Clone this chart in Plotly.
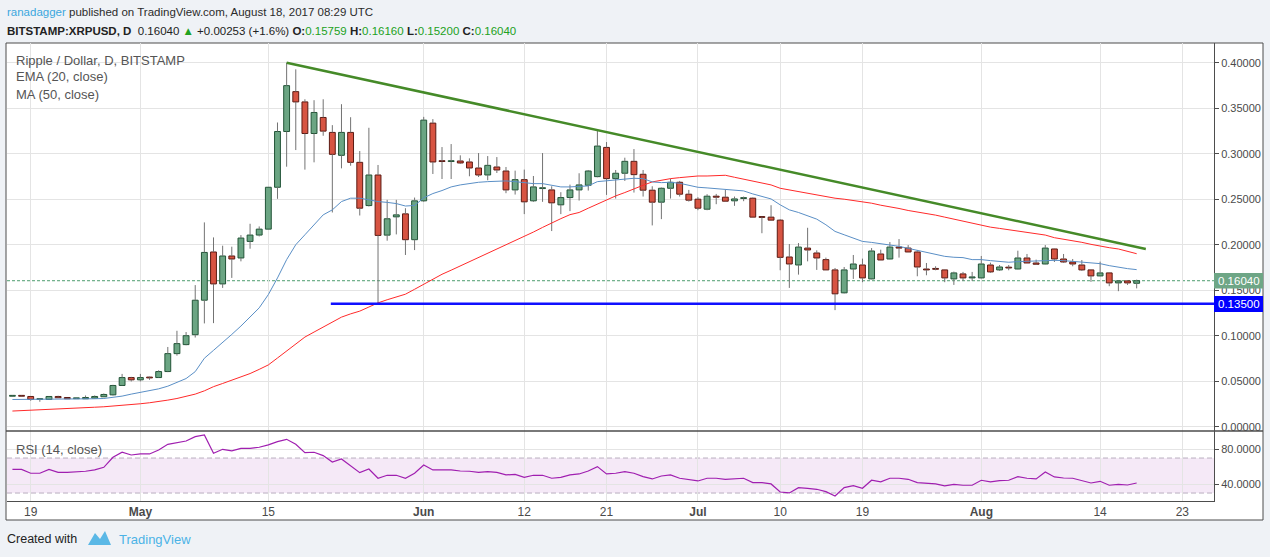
import pandas as pd
import plotly.graph_objects as go

# ---- data (daily candles, Apr 17 - Aug 18 2017) ----
dates = pd.date_range("2017-04-17", "2017-08-18", freq="D")

opens = [
    # Apr 17-30
    0.0335, 0.0337, 0.0332, 0.0299, 0.0299, 0.0332, 0.0321, 0.0308, 0.0307, 0.0314, 0.0329, 0.0350, 0.0453, 0.0540,
    # May
    0.0515, 0.0540, 0.0540, 0.0606, 0.0803, 0.0902, 0.1011, 0.1390, 0.1920, 0.1569, 0.1876, 0.1854, 0.2036, 0.2106,
    0.2171, 0.2631, 0.3244, 0.3682, 0.3569, 0.3222, 0.3398, 0.3234, 0.2982, 0.3234, 0.2905, 0.2430, 0.2766, 0.2105,
    0.2306, 0.2339, 0.2055,
    # Jun
    0.2482, 0.3336, 0.2920, 0.2914, 0.2920, 0.2909, 0.2843, 0.2766, 0.2854, 0.2810, 0.2602, 0.2715, 0.2482, 0.2617,
    0.2602, 0.2438, 0.2518, 0.2602, 0.2653, 0.2748, 0.3069, 0.2726, 0.2785, 0.2916, 0.2774, 0.2599, 0.2467, 0.2620,
    0.2686, 0.2555,
    # Jul
    0.2500, 0.2390, 0.2533, 0.2522, 0.2482, 0.2508, 0.2511, 0.2303, 0.2303, 0.2270, 0.1865, 0.1777, 0.1963, 0.1909,
    0.1836, 0.1723, 0.1471, 0.1733, 0.1777, 0.1624, 0.1898, 0.1843, 0.1974, 0.1963, 0.1920, 0.1733, 0.1733, 0.1723,
    0.1624, 0.1679, 0.1635,
    # Aug
    0.1635, 0.1777, 0.1723, 0.1748, 0.1733, 0.1854, 0.1799, 0.1788, 0.1953, 0.1843, 0.1810, 0.1777, 0.1723, 0.1657,
    0.1690, 0.1580, 0.1602, 0.15759,
]
highs = [
    0.0340, 0.0340, 0.0334, 0.0307, 0.0336, 0.0340, 0.0321, 0.0314, 0.0343, 0.0343, 0.0365, 0.0460, 0.0580, 0.0548,
    0.0580, 0.0550, 0.0620, 0.0876, 0.1054, 0.1040, 0.1556, 0.2245, 0.2080, 0.1989, 0.1978, 0.2106, 0.2230, 0.2201,
    0.2631, 0.3343, 0.4000, 0.3927, 0.3598, 0.3588, 0.3598, 0.3314, 0.3544, 0.3401, 0.3029, 0.3285, 0.2876, 0.2493,
    0.2493, 0.2401, 0.2518,
    0.3405, 0.3380, 0.3073, 0.3106, 0.2982, 0.2949, 0.3007, 0.2974, 0.2963, 0.2854, 0.2814, 0.2825, 0.2755, 0.3007,
    0.2642, 0.2577, 0.2660, 0.2785, 0.2821, 0.3259, 0.3128, 0.2821, 0.2956, 0.3051, 0.2821, 0.2642, 0.2628, 0.2726,
    0.2701, 0.2602,
    0.2522, 0.2555, 0.2558, 0.2602, 0.2529, 0.2529, 0.2518, 0.2306, 0.2434, 0.2281, 0.2007, 0.2018, 0.2186, 0.1938,
    0.1858, 0.1744, 0.1755, 0.1887, 0.1847, 0.1963, 0.1945, 0.2029, 0.2062, 0.1996, 0.1942, 0.1799, 0.1763, 0.1726,
    0.1704, 0.1701, 0.1701,
    0.1876, 0.1803, 0.1777, 0.1777, 0.1934, 0.1898, 0.1836, 0.1996, 0.1956, 0.1898, 0.1843, 0.1832, 0.1726, 0.1814,
    0.1693, 0.1605, 0.1609, 0.16160,
]
lows = [
    0.0333, 0.0333, 0.0285, 0.0274, 0.0298, 0.0316, 0.0305, 0.0305, 0.0305, 0.0312, 0.0325, 0.0343, 0.0450, 0.0497,
    0.0497, 0.0515, 0.0535, 0.0600, 0.0781, 0.0895, 0.0980, 0.1135, 0.1138, 0.1525, 0.1635, 0.1817, 0.1956, 0.2091,
    0.2171, 0.2504, 0.2857, 0.3040, 0.2825, 0.2905, 0.3197, 0.2354, 0.2839, 0.2868, 0.2321, 0.2420, 0.1361, 0.2044,
    0.2113, 0.1887, 0.1941,
    0.2471, 0.2777, 0.2722, 0.2722, 0.2887, 0.2752, 0.2744, 0.2708, 0.2788, 0.2566, 0.2551, 0.2336, 0.2471, 0.2471,
    0.2150, 0.2336, 0.2369, 0.2485, 0.2595, 0.2741, 0.2547, 0.2507, 0.2701, 0.2573, 0.2529, 0.2212, 0.2281, 0.2507,
    0.2529, 0.2474,
    0.2379, 0.2379, 0.2445, 0.2474, 0.2427, 0.2478, 0.2303, 0.2126, 0.2266, 0.1719, 0.1525, 0.1671, 0.1817, 0.1723,
    0.1723, 0.1281, 0.1465, 0.1624, 0.1588, 0.1620, 0.1832, 0.1840, 0.1858, 0.1920, 0.1653, 0.1664, 0.1719, 0.1588,
    0.1558, 0.1602, 0.1602,
    0.1630, 0.1690, 0.1712, 0.1719, 0.1730, 0.1799, 0.1777, 0.1785, 0.1810, 0.1799, 0.1763, 0.1712, 0.1591, 0.1654,
    0.1544, 0.1489, 0.1558, 0.15200,
]
closes = [
    0.0337, 0.0335, 0.0300, 0.0300, 0.0332, 0.0318, 0.0307, 0.0310, 0.0321, 0.0332, 0.0354, 0.0453, 0.0540, 0.0515,
    0.0540, 0.0536, 0.0606, 0.0803, 0.0913, 0.1000, 0.1390, 0.1915, 0.1569, 0.1876, 0.1843, 0.2073, 0.2106, 0.2171,
    0.2631, 0.3244, 0.3748, 0.3569, 0.3222, 0.3453, 0.3248, 0.2993, 0.3234, 0.2905, 0.2401, 0.2766, 0.2102, 0.2285,
    0.2328, 0.2055, 0.2482,
    0.3369, 0.2909, 0.2914, 0.2920, 0.2898, 0.2843, 0.2766, 0.2872, 0.2821, 0.2602, 0.2715, 0.2471, 0.2635, 0.2620,
    0.2460, 0.2518, 0.2602, 0.2657, 0.2810, 0.3084, 0.2726, 0.2785, 0.2916, 0.2770, 0.2599, 0.2467, 0.2620, 0.2686,
    0.2555, 0.2489,
    0.2401, 0.2533, 0.2522, 0.2478, 0.2503, 0.2511, 0.2303, 0.2300, 0.2270, 0.1861, 0.1788, 0.1974, 0.1942, 0.1854,
    0.1723, 0.1460, 0.1723, 0.1788, 0.1635, 0.1931, 0.1832, 0.1974, 0.1963, 0.1920, 0.1755, 0.1723, 0.1730, 0.1635,
    0.1690, 0.1635, 0.1646,
    0.1788, 0.1701, 0.1755, 0.1744, 0.1854, 0.1799, 0.1785, 0.1963, 0.1843, 0.1810, 0.1788, 0.1723, 0.1657, 0.1690,
    0.1580, 0.1602, 0.1580, 0.16040,
]

ema20 = [
    0.0299, 0.0299, 0.0300, 0.0300, 0.0301, 0.0302, 0.0302, 0.0303, 0.0305, 0.0307, 0.0310, 0.0321, 0.0336, 0.0358,
    0.0376, 0.0390, 0.0416, 0.0445, 0.0485, 0.0529, 0.0605, 0.0752, 0.0839, 0.0923, 0.1014, 0.1106, 0.1204, 0.1306,
    0.1452, 0.1635, 0.1836, 0.2000, 0.2109, 0.2219, 0.2328, 0.2383, 0.2474, 0.2511, 0.2511, 0.2493, 0.2474, 0.2465,
    0.2452, 0.2425, 0.2431,
    0.2515, 0.2562, 0.2595, 0.2635, 0.2657, 0.2675, 0.2686, 0.2693, 0.2701, 0.2701, 0.2693, 0.2679, 0.2671, 0.2671,
    0.2650, 0.2635, 0.2635, 0.2638, 0.2646, 0.2693, 0.2701, 0.2712, 0.2723, 0.2730, 0.2726, 0.2690, 0.2682, 0.2686,
    0.2675, 0.2653,
    0.2631, 0.2624, 0.2617, 0.2602, 0.2595, 0.2591, 0.2558, 0.2533, 0.2503, 0.2438, 0.2383, 0.2354, 0.2321, 0.2281,
    0.2219, 0.2146, 0.2109, 0.2073, 0.2036, 0.2025, 0.2011, 0.2000, 0.1982, 0.1960, 0.1938, 0.1916, 0.1894, 0.1872,
    0.1862, 0.1858, 0.1836,
    0.1836, 0.1825, 0.1814, 0.1807, 0.1814, 0.1817, 0.1817, 0.1828, 0.1828, 0.1825, 0.1817, 0.1807, 0.1796, 0.1792,
    0.1770, 0.1752, 0.1737, 0.1726,
]
ma50 = [
    0.0172, 0.0176, 0.0179, 0.0183, 0.0188, 0.0193, 0.0198, 0.0204, 0.0209, 0.0214, 0.0219, 0.0226, 0.0233, 0.0241,
    0.0252, 0.0263, 0.0274, 0.0292, 0.0310, 0.0334, 0.0358, 0.0394, 0.0440, 0.0475, 0.0510, 0.0545, 0.0584, 0.0630,
    0.0679, 0.0755, 0.0832, 0.0910, 0.0985, 0.1040, 0.1095, 0.1150, 0.1204, 0.1240, 0.1270, 0.1315, 0.1361, 0.1395,
    0.1425, 0.1456, 0.1510,
    0.1566, 0.1620, 0.1675, 0.1720, 0.1766, 0.1812, 0.1858, 0.1907, 0.1956, 0.2003, 0.2051, 0.2095, 0.2139, 0.2190,
    0.2241, 0.2286, 0.2330, 0.2354, 0.2401, 0.2449, 0.2493, 0.2536, 0.2573, 0.2609, 0.2653, 0.2690, 0.2712, 0.2726,
    0.2737, 0.2748,
    0.2755, 0.2755, 0.2759, 0.2763, 0.2741, 0.2719, 0.2697, 0.2680, 0.2657, 0.2620, 0.2602, 0.2580, 0.2558, 0.2540,
    0.2526, 0.2511, 0.2500, 0.2485, 0.2474, 0.2456, 0.2434, 0.2420, 0.2398, 0.2376, 0.2361, 0.2347, 0.2325, 0.2303,
    0.2281, 0.2252, 0.2230,
    0.2215, 0.2193, 0.2179, 0.2164, 0.2153, 0.2139, 0.2120, 0.2106, 0.2077, 0.2062, 0.2044, 0.2026, 0.2004, 0.1982,
    0.1967, 0.1953, 0.1923, 0.1901,
]
rsi14 = [
    57.1, 57.1, 52.6, 52.6, 57.1, 53.7, 53.7, 54.1, 54.9, 56.4, 59.4, 70.9, 76.6, 73.5,
    74.7, 74.7, 79.2, 85.7, 87.6, 89.5, 94.5, 96.4, 75.4, 80.0, 78.1, 81.1, 81.1, 82.3, 85.0, 88.8, 91.4, 85.7,
    76.2, 76.6, 72.8, 65.5, 69.0, 61.0, 53.3, 57.5, 46.9, 50.3, 50.3, 46.9, 52.6,
    62.1, 56.4, 56.4, 56.4, 55.2, 54.9, 53.7, 54.5, 53.7, 50.7, 51.4, 48.0, 50.3, 50.3, 46.9, 48.0, 50.7, 51.8,
    55.2, 60.2, 51.8, 52.6, 54.5, 52.6, 48.8, 46.1, 49.5, 50.7, 46.9, 45.7,
    43.8, 46.9, 46.9, 45.7, 46.5, 46.9, 41.9, 41.9, 40.4, 31.2, 30.1, 36.2, 35.4, 34.3, 31.6, 26.7, 36.2, 38.5,
    35.4, 44.6, 42.7, 46.9, 46.9, 45.7, 41.9, 40.8, 40.4, 38.1, 40.0, 38.9, 38.9,
    44.6, 42.7, 44.2, 44.6, 48.8, 46.9, 46.1, 54.1, 48.4, 47.2, 46.9, 43.8, 41.5, 43.4, 38.9, 40.0, 39.2, 41.5,
]
for series in (opens, highs, lows, closes, ema20, ma50, rsi14):
    assert len(series) == len(dates), len(series)

# drawings on the chart
trend_dates = ["2017-05-17", "2017-08-19"]
trend_prices = [0.4000, 0.1953]
support_dates = ["2017-05-21 20:00", "2017-08-27"]
support_price = 0.135
last_price = 0.16040

tick_dates = ["2017-04-19", "2017-05-01", "2017-05-15", "2017-06-01", "2017-06-12", "2017-06-21",
              "2017-07-01", "2017-07-10", "2017-07-19", "2017-08-01", "2017-08-14", "2017-08-23"]
tick_text = ["19", "<b>May</b>", "15", "<b>Jun</b>", "12", "21",
             "<b>Jul</b>", "10", "19", "<b>Aug</b>", "14", "23"]

# ---- layout helpers (pixel -> paper) ----
W, H = 1270, 557
ML, MR, MT, MB = 7, 56, 43, 56
PW, PH = W - ML - MR, H - MT - MB


def px(x):
    return (x - ML) / PW


def py(y):
    return (H - MB - y) / PH


SPLIT = py(431)
SANS = "Liberation Sans, Arial, sans-serif"

UP_FILL, UP_LINE = "#6ba583", "#225437"
DN_FILL, DN_LINE = "#d75442", "#5b1a13"

fig = go.Figure()

# wicks (split so they never cross the bodies)
wx, wy = [], []
for d, o, h, l, c in zip(dates, opens, highs, lows, closes):
    wx += [d, d, None, d, d, None]
    wy += [l, min(o, c), None, max(o, c), h, None]
fig.add_trace(go.Scatter(x=wx, y=wy, mode="lines", line=dict(color="#737373", width=1),
                         hoverinfo="skip", showlegend=False))

# bodies
up = [c >= o for o, c in zip(opens, closes)]
fig.add_trace(go.Bar(
    x=dates,
    y=[max(abs(c - o), 0.0009) for o, c in zip(opens, closes)],
    base=[min(o, c) for o, c in zip(opens, closes)],
    width=0.64 * 86400000,
    marker=dict(color=[UP_FILL if u else DN_FILL for u in up],
                line=dict(color=[UP_LINE if u else DN_LINE for u in up], width=1)),
    hoverinfo="skip", showlegend=False,
))

fig.add_trace(go.Scatter(x=dates, y=ma50, mode="lines", line=dict(color="#ff2a2a", width=1),
                         hoverinfo="skip", showlegend=False))
fig.add_trace(go.Scatter(x=dates, y=ema20, mode="lines", line=dict(color="#5a8fc6", width=1),
                         hoverinfo="skip", showlegend=False))
fig.add_trace(go.Scatter(x=trend_dates, y=trend_prices, mode="lines", line=dict(color="#458a28", width=2.5),
                         hoverinfo="skip", showlegend=False))
fig.add_trace(go.Scatter(x=support_dates, y=[support_price, support_price], mode="lines",
                         line=dict(color="#1010ff", width=2.5), hoverinfo="skip", showlegend=False))

# RSI pane
fig.add_trace(go.Scatter(x=dates, y=rsi14, mode="lines", line=dict(color="#a01fb0", width=1.2),
                         xaxis="x2", yaxis="y2", hoverinfo="skip", showlegend=False))

x_range = ["2017-04-16 09:46", "2017-08-26 11:03"]
grid = "#e4e4e4"
axis_line = "#4d4d4d"
tick_font = dict(family=SANS, size=11, color="#4a4a4a")

fig.update_layout(
    width=W, height=H,
    margin=dict(l=ML, r=MR, t=MT, b=MB),
    paper_bgcolor="#eff2f6",
    plot_bgcolor="#ffffff",
    barmode="overlay",
    showlegend=False,
    xaxis=dict(domain=[0, 1], anchor="y", range=x_range, type="date",
               tickvals=tick_dates, showticklabels=False, ticks="",
               showgrid=True, gridcolor=grid, gridwidth=1, zeroline=False, showline=False),
    yaxis=dict(domain=[SPLIT, 1], anchor="x", side="right", range=[-0.00473, 0.42165],
               tickvals=[0.0, 0.05, 0.10, 0.15, 0.20, 0.25, 0.30, 0.35, 0.40],
               tickformat=".5f", ticks="outside", ticklen=4, tickcolor=axis_line, tickfont=tick_font,
               showgrid=True, gridcolor=grid, zeroline=False,
               showline=True, linecolor=axis_line, linewidth=1),
    xaxis2=dict(domain=[0, 1], anchor="y2", matches="x", range=x_range, type="date",
                tickvals=tick_dates, ticktext=tick_text, ticks="",
                tickfont=dict(family=SANS, size=12, color="#4a4a4a"),
                showgrid=True, gridcolor=grid, zeroline=False,
                showline=True, linecolor=axis_line, linewidth=1),
    yaxis2=dict(domain=[0, SPLIT], anchor="x2", side="right", range=[20.9, 100.9],
                tickvals=[40, 80], tickformat=".4f", ticks="outside", ticklen=4, tickcolor=axis_line,
                tickfont=tick_font, showgrid=True, gridcolor=grid, zeroline=False,
                showline=True, linecolor=axis_line, linewidth=1),
)

shapes = [
    # chart frame
    dict(type="rect", xref="paper", yref="paper", x0=px(6), x1=px(1263), y0=py(520), y1=py(43),
         line=dict(color="#4d4d4d", width=1), fillcolor="rgba(255,255,255,1)", layer="below"),
    # pane separator
    dict(type="line", xref="paper", yref="paper", x0=px(6), x1=px(1263), y0=SPLIT, y1=SPLIT,
         line=dict(color=axis_line, width=1.5), layer="above"),
    # RSI band and bounds
    dict(type="rect", xref="x2 domain", yref="y2", x0=0, x1=1, y0=30, y1=70,
         fillcolor="rgba(156,39,176,0.10)", line=dict(width=0), layer="below"),
    dict(type="line", xref="x2 domain", yref="y2", x0=0, x1=1, y0=70, y1=70,
         line=dict(color="#b9aebf", width=1, dash="5px,3px"), layer="below"),
    dict(type="line", xref="x2 domain", yref="y2", x0=0, x1=1, y0=30, y1=30,
         line=dict(color="#b9aebf", width=1, dash="5px,3px"), layer="below"),
    # last price line
    dict(type="line", xref="x domain", yref="y", x0=0, x1=1, y0=last_price, y1=last_price,
         line=dict(color="#4e9d6f", width=1, dash="3px,2px"), layer="below"),
    # price labels on the scale
    dict(type="rect", xref="paper", yref="paper", x0=px(1214), x1=px(1263), y0=py(288.5), y1=py(273),
         fillcolor="#6ea686", line=dict(width=0), layer="above"),
    dict(type="rect", xref="paper", yref="paper", x0=px(1214), x1=px(1263), y0=py(312), y1=py(296),
         fillcolor="#0000ff", line=dict(width=0), layer="above"),
    # TradingView logo (simplified)
    dict(type="path", xref="paper", yref="paper",
         path="M {} {} L {} {} L {} {} L {} {} L {} {} Z".format(
             px(88), py(545), px(95), py(533), px(100), py(539), px(105), py(531), px(111), py(545)),
         fillcolor="#5ab8e6", line=dict(width=0), layer="above"),
]
fig.update_layout(shapes=shapes)

ann = []


def text(x, y, s, size=13, color="#4f4f4f", family=SANS, xanchor="left"):
    ann.append(dict(xref="paper", yref="paper", x=px(x), y=py(y), text=s, showarrow=False,
                    xanchor=xanchor, yanchor="middle", font=dict(size=size, color=color, family=family)))


GREEN = "#21a121"
text(5, 12, '<span style="color:#3ba7de">ranadagger</span> published on TradingView.com, August 18, 2017 08:29 UTC',
     size=11.5, color="#2b2b2b")
text(5, 31, '<b>BITSTAMP:XRPUSD, D</b>  0.16040 <span style="color:%s">▲</span> +0.00253 (+1.6%%) '
     '<b>O:</b><span style="color:%s">0.15759</span> <b>H:</b><span style="color:%s">0.16160</span> '
     '<b>L:</b><span style="color:%s">0.15200</span> <b>C:</b><span style="color:%s">0.16040</span>'
     % (GREEN, GREEN, GREEN, GREEN, GREEN), size=11.5, color="#222222")
text(14, 60, "Ripple / Dollar, D, BITSTAMP", size=13, color="#555555")
text(14, 77, "EMA (20, close)", size=13, color="#555555")
text(14, 94, "MA (50, close)", size=13, color="#555555")
text(14, 449, "RSI (14, close)", size=13, color="#555555")
text(1238.5, 281, "0.16040", size=11.5, color="#ffffff", xanchor="center")
text(1238.5, 304, "0.13500", size=11.5, color="#ffffff", xanchor="center")
text(5, 539, "Created with", size=12.5, color="#222222")
text(117, 539, "TradingView", size=13, color="#4bb3e6")
fig.update_layout(annotations=ann)

# the page body has a default 8px margin; drop it so the figure sits at (0, 0)
fig.write_html("out.html", config={"displayModeBar": False},
               post_script="document.body.style.margin='0px';")
